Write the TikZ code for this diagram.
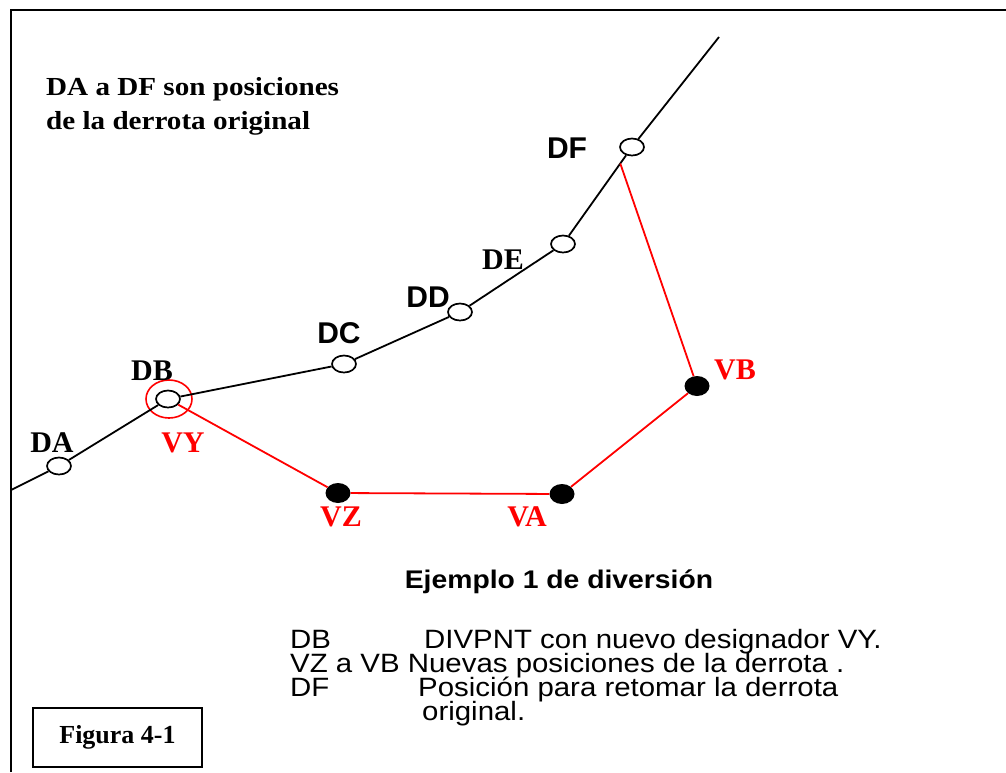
\documentclass[tikz,border=0pt]{standalone}
\usepackage{fontspec}
\setmainfont{Liberation Serif}
\setsansfont{Liberation Sans}
\newfontfamily\notafont{Liberation Serif}[FakeStretch=1.12]
\newfontfamily\leyfont{Liberation Sans}[FakeStretch=1.11]
\usetikzlibrary{shapes.geometric,calc}

\tikzset{
  posorig/.style={ellipse,draw=black,line width=1.7pt,fill=white,minimum width=24pt,minimum height=17pt,inner sep=0pt},
  posnew/.style={ellipse,fill=black,minimum width=25pt,minimum height=20pt,inner sep=0pt},
  lblserif/.style={inner sep=0pt,font=\fontsize{30}{32}\selectfont\bfseries},
  lblsans/.style={inner sep=0pt,font=\fontsize{30}{32}\selectfont\sffamily\bfseries},
  legend/.style={inner sep=0pt,anchor=base west,font=\fontsize{26.5}{28}\selectfont\leyfont},
  track/.style={line width=1.8pt},
  newtrack/.style={red,line width=1.8pt}
}

\begin{document}
\begin{tikzpicture}[x=1pt,y=-1pt]
  \useasboundingbox (0,0) rectangle (1006,772);

  % Marco
  \draw[line width=2pt] (11,772) -- (11,10) -- (1006,10);

  % Posiciones de la derrota original
  \node[posorig] (DA) at (59,466) {};
  \node[posorig] (DB) at (168,399) {};
  \node[posorig] (DC) at (344,364) {};
  \node[posorig] (DD) at (460,312) {};
  \node[posorig] (DE) at (563,244) {};
  \node[posorig] (DF) at (632,147) {};
  \coordinate (inicio) at (11,490);
  \coordinate (fin) at (719,37);

  % Nuevas posiciones
  \node[draw=red,line width=1.6pt,ellipse,minimum width=46pt,minimum height=38pt,inner sep=0pt] (VY) at (169,399) {};
  \node[posnew] (VZ) at (338,493) {};
  \node[posnew] (VA) at (562,494) {};
  \node[posnew] (VB) at (697,386) {};
  \coordinate (retoma) at ($(DF)!0.17!(DE)$);

  % Derrota original
  \foreach \from/\to in {inicio/DA, DA/DB, DB/DC, DC/DD, DD/DE, DE/DF, DF/fin}
    \draw[track] (\from) -- (\to);

  % Derrota nueva
  \foreach \from/\to in {DB/VZ, VZ/VA, VA/VB, VB/retoma}
    \draw[newtrack] (\from) -- (\to);

  % Etiquetas
  \node[lblserif] (lDA) at (52,443) {DA};
  \node[lblserif] (lDB) at (152,371) {DB};
  \node[lblsans] (lDC) at (339,333) {DC};
  \node[lblsans] (lDD) at (428,297) {DD};
  \node[lblserif] (lDE) at (503,260) {DE};
  \node[lblsans] (lDF) at (567,148) {DF};
  \node[lblserif,red] (lVY) at (183,443) {VY};
  \node[lblserif,red] (lVZ) at (341,517) {VZ};
  \node[lblserif,red] (lVA) at (527,517) {VA};
  \node[lblserif,red] (lVB) at (735,370) {VB};

  % Textos
  \node[inner sep=0pt,anchor=north west,align=left,font=\fontsize{26}{34}\selectfont\notafont\bfseries] (nota) at (46,77)
    {DA a DF son posiciones\\de la derrota original};
  \node[inner sep=0pt,anchor=base,font=\fontsize{25.5}{28}\selectfont\leyfont\bfseries] (titulo) at (559,588) {Ejemplo 1 de diversión};

  % Leyenda
  \node[legend] (leyDB) at (290,648) {DB};
  \node[legend] (txtDB) at (424,648) {DIVPNT con nuevo designador VY.};
  \node[legend] (leyVZ) at (290,672) {VZ a VB Nuevas posiciones de la derrota .};
  \node[legend] (leyDF) at (290,696) {DF};
  \node[legend] (txtDF) at (418,696) {Posición para retomar la derrota};
  \node[legend] (txtDF2) at (422,720) {original.};

  % Figura
  \node[draw,line width=1.2pt,minimum width=169pt,minimum height=59pt,font=\fontsize{26}{28}\selectfont\bfseries] (figura) at (117.5,737.5) {Figura 4-1};
\end{tikzpicture}
\end{document}
